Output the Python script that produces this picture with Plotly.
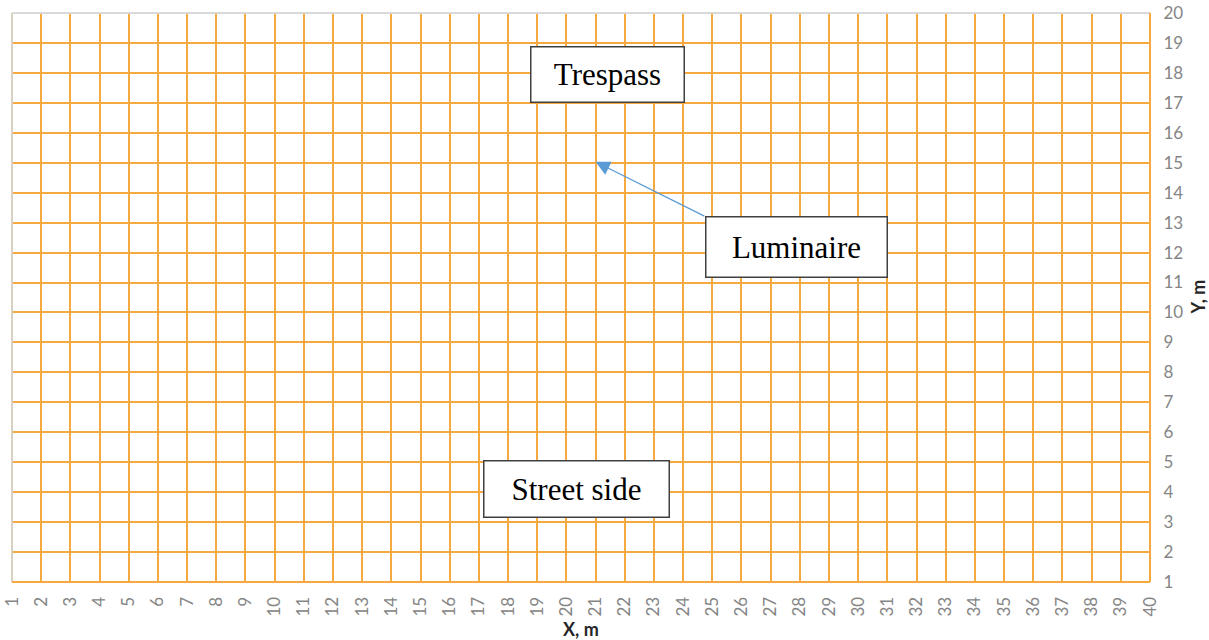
import plotly.graph_objects as go

# Data
x_ticks = list(range(1, 41))
y_ticks = list(range(1, 21))
x_range = [1, 40]
y_range = [1, 20]

box_labels = ["Trespass", "Luminaire", "Street side"]
box_x = [21.42, 27.9, 20.33]
box_y = [17.93, 12.17, 4.09]
box_w = [152, 180, 184]
box_h = [54, 59, 55]

arrow_tip = (21.0, 15.03)
arrow_tail = (24.78, 13.19)

GRID = "#F5A940"
TICKC = "#858585"
TICKFONT = dict(family="Lato, Open Sans, sans-serif", size=17, color=TICKC)

fig = go.Figure()
fig.add_trace(go.Scatter(x=[x_range[0], x_range[1]], y=[y_range[0], y_range[1]],
                         mode="markers", marker=dict(opacity=0), hoverinfo="skip",
                         showlegend=False))

fig.update_xaxes(range=x_range, tickmode="array", tickvals=x_ticks,
                 ticktext=[str(v) for v in x_ticks], tickangle=-90,
                 showgrid=True, gridcolor=GRID, gridwidth=2, zeroline=False,
                 showline=False, ticks="outside", ticklen=7, tickcolor="rgba(0,0,0,0)",
                 tickfont=TICKFONT, fixedrange=True, automargin=False)
fig.update_yaxes(range=y_range, tickmode="array", tickvals=y_ticks,
                 ticktext=[str(v) for v in y_ticks], side="right",
                 showgrid=True, gridcolor=GRID, gridwidth=2, zeroline=False,
                 showline=False, ticks="outside", ticklen=9, tickcolor="rgba(0,0,0,0)",
                 tickfont=TICKFONT, fixedrange=True, automargin=False)

# Edges
fig.add_shape(type="line", xref="paper", yref="paper", x0=0, x1=0, y0=0, y1=1,
              line=dict(color="#D8D0C0", width=2))
fig.add_shape(type="line", xref="paper", yref="paper", x0=0, x1=1, y0=1, y1=1,
              line=dict(color="#D9D9D9", width=2))
fig.add_shape(type="line", xref="paper", yref="paper", x0=1, x1=1, y0=0, y1=1,
              line=dict(color=GRID, width=2))
fig.add_shape(type="line", xref="paper", yref="paper", x0=0, x1=1, y0=0, y1=0,
              line=dict(color=GRID, width=2))

# Arrow
fig.add_annotation(x=arrow_tip[0], y=arrow_tip[1], ax=arrow_tail[0], ay=arrow_tail[1],
                   xref="x", yref="y", axref="x", ayref="y", text="",
                   showarrow=True, arrowhead=2, arrowsize=2.2, arrowwidth=1.3,
                   arrowcolor="#5B9BD5")

for lbl, bx, by, w, h in zip(box_labels, box_x, box_y, box_w, box_h):
    fig.add_annotation(x=bx, y=by, xref="x", yref="y", text=lbl, showarrow=False,
                       font=dict(family="Liberation Serif, Times New Roman, serif",
                                 size=31, color="black"),
                       bgcolor="white", bordercolor="#404040", borderwidth=1.5,
                       borderpad=0, width=w, height=h, align="center", valign="middle")

# Axis titles
fig.add_annotation(x=0.5, y=0, xref="paper", yref="paper", yanchor="top", yshift=-34,
                   text="<b>X, m</b>", showarrow=False,
                   font=dict(family="Lato, Open Sans, sans-serif", size=18, color="#262626"))
fig.add_annotation(x=1, y=0.5, xref="paper", yref="paper", xanchor="center", xshift=47,
                   text="<b>Y, m</b>", textangle=-90, showarrow=False,
                   font=dict(family="Lato, Open Sans, sans-serif", size=18, color="#262626"))

fig.update_layout(width=1209, height=640, margin=dict(l=12, r=59, t=13, b=58, autoexpand=False),
                  plot_bgcolor="white", paper_bgcolor="white", showlegend=False)

fig.write_html("out.html", config={"displayModeBar": False},
               post_script="document.body.style.margin='0';document.body.style.overflow='hidden';")
